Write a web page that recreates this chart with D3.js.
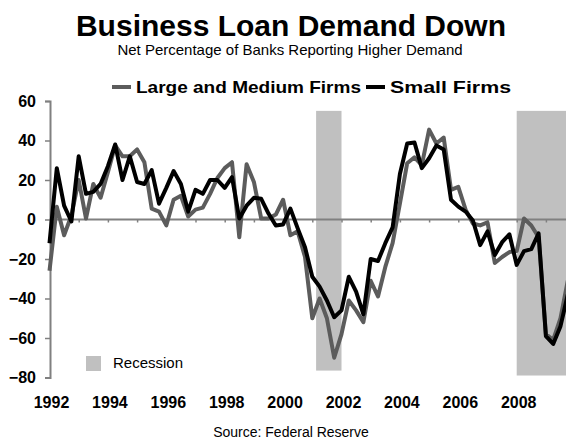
<!DOCTYPE html>
<html>
<head>
<meta charset="utf-8">
<script src="https://cdn.jsdelivr.net/npm/d3@7"></script>
<style>
  html, body { margin: 0; padding: 0; background: #fff; }
  svg { display: block; font-family: "Liberation Sans", Arial, Helvetica, sans-serif; }
</style>
</head>
<body>
<svg id="chart" width="566" height="440"></svg>
<script>
// ---- data (quarterly, starting 1992 Q1) ----
const startYear = 1992;
const largeMedium = [-26, 6.5, -8, 2, 20, 0.5, 18, 11, 24, 37.5,
  32, 32, 35.5, 29, 5.5, 4, -3, 10, 12, 1.5,
  5, 6, 13, 21, 26, 29, -9, 28, 19, 0.5,
  0.5, 2.5, 10, -8, -6, -19, -50, -40, -50, -70,
  -58, -41, -46, -52, -31, -39, -24, -12, 8, 28.5,
  31.5, 27.5, 45.5, 38.5, 41.5, 15, 16.5, 5, -2, -3,
  -1.5, -22, -19, -16.5, -16, 0.5, -3, -9, -58, -61,
  -50, -31];
const small = [-12, 26, 7, -1, 32, 13, 14, 18, 27, 38,
  20, 32, 19, 18, 25, 8, 16, 24.5, 18, 4,
  15, 13, 20, 20, 16, 21.5, 0.5, 7, 11, 10.5,
  3, -3, -2.5, 5.5, -4.5, -14, -29, -34, -41, -49.5,
  -46, -29, -36.5, -48, -20, -21, -12, -4, 23, 38.5,
  39, 26, 31, 37.5, 35.5, 10, 6.5, 4, -0.5, -13,
  -6, -18, -11.5, -7.5, -23, -16, -15, -7, -59, -63,
  -54, -38];
const recessions = [[2001.13, 2002.0, -76.5], [2008.0, 2010.5, -79]];
const recessionTop = 55;
const yTicks = [60, 40, 20, 0, -20, -40, -60, -80];
const xLabelYears = [1992, 1994, 1996, 1998, 2000, 2002, 2004, 2006, 2008];
const xTickYears = d3.range(1993, 2010);
const seriesNames = ["Large and Medium Firms", "Small Firms"];
const seriesColors = ["#5c5c5c", "#000000"];

const svg = d3.select("#chart");
const x = d3.scaleLinear().domain([1992, 2010]).range([49.5, 575.1]);
const y = d3.scaleLinear().domain([-80, 60]).range([377.5, 101]);
const t = i => startYear + i / 4;

// title
svg.append("text").attr("x", 291).attr("y", 36).attr("text-anchor", "middle")
  .attr("font-size", 30).attr("font-weight", "bold").text("Business Loan Demand Down");
svg.append("text").attr("x", 290).attr("y", 55).attr("text-anchor", "middle")
  .attr("font-size", 15).text("Net Percentage of Banks Reporting Higher Demand");

// recession bands
svg.selectAll("rect.rec").data(recessions).join("rect").attr("class", "rec")
  .attr("x", d => x(d[0])).attr("width", d => x(d[1]) - x(d[0]))
  .attr("y", y(recessionTop)).attr("height", d => y(d[2]) - y(recessionTop))
  .attr("fill", "#c0c0c0");

// y axis
const yAxis = d3.axisLeft(y).tickValues(yTicks).tickSize(5).tickPadding(9);
const gy = svg.append("g").attr("transform", "translate(50,0)").call(yAxis);
gy.select(".domain").attr("stroke", "#808080").attr("stroke-width", 2);
gy.selectAll(".tick line").attr("stroke", "#808080").attr("stroke-width", 1.5);
gy.selectAll(".tick text").attr("font-size", 16).attr("font-weight", "bold")
  .attr("font-family", "Liberation Sans, Arial, sans-serif").attr("fill", "#000");

// zero line with year ticks
const xAxis = d3.axisBottom(x).tickValues(xTickYears).tickSize(3).tickFormat("");
const gx = svg.append("g").attr("transform", `translate(0,${y(0)})`).call(xAxis);
gx.select(".domain").remove();
gx.selectAll(".tick line").attr("stroke", "#808080").attr("stroke-width", 1.5);
svg.append("line").attr("x1", 50).attr("x2", 566).attr("y1", y(0)).attr("y2", y(0))
  .attr("stroke", "#808080").attr("stroke-width", 2);

// x labels
svg.selectAll("text.xl").data(xLabelYears).join("text").attr("class", "xl")
  .attr("x", d => x(d) + 2).attr("y", 408).attr("text-anchor", "middle")
  .attr("font-size", 16).attr("font-weight", "bold").text(d => d);

// lines
const line = d3.line().x((d, i) => x(t(i))).y(d => y(d)).curve(d3.curveLinear);
[largeMedium, small].forEach((s, k) => {
  svg.append("path").datum(s).attr("d", line).attr("fill", "none")
    .attr("stroke", seriesColors[k]).attr("stroke-width", 4)
    .attr("stroke-linejoin", "round");
});

// legend
const legX = [112, 366];
const legW = [225, 121];
seriesNames.forEach((n, k) => {
  svg.append("line").attr("x1", legX[k]).attr("x2", legX[k] + 19).attr("y1", 87).attr("y2", 87)
    .attr("stroke", seriesColors[k]).attr("stroke-width", 4);
  svg.append("text").attr("x", legX[k] + 24).attr("y", 93).attr("font-size", 17)
    .attr("font-weight", "bold").attr("textLength", legW[k])
    .attr("lengthAdjust", "spacingAndGlyphs").text(n);
});
svg.append("rect").attr("x", 86).attr("y", 356).attr("width", 15).attr("height", 15).attr("fill", "#c0c0c0");
svg.append("text").attr("x", 113).attr("y", 368).attr("font-size", 15).text("Recession");

// source
svg.append("text").attr("x", 291).attr("y", 437).attr("text-anchor", "middle")
  .attr("font-size", 14).text("Source: Federal Reserve");
</script>
</body>
</html>
